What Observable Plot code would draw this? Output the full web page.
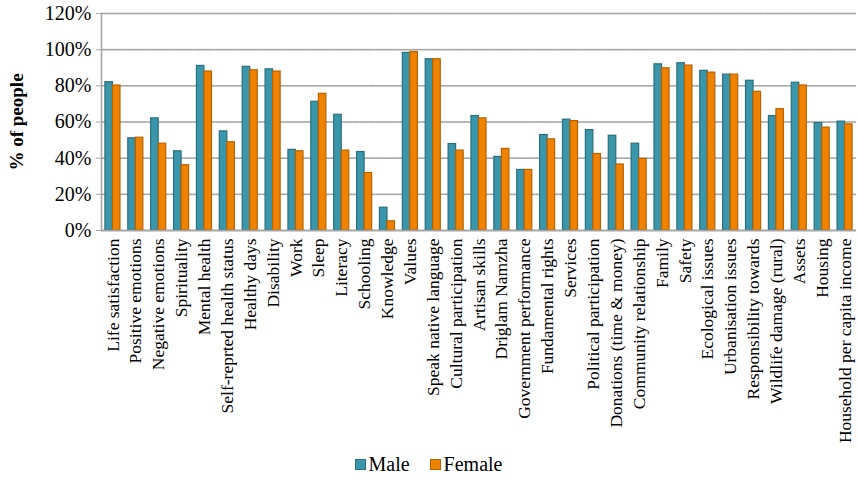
<!DOCTYPE html>
<html><head><meta charset="utf-8">
<script src="https://cdn.jsdelivr.net/npm/d3@7"></script>
<script src="https://cdn.jsdelivr.net/npm/@observablehq/plot@0.6"></script>
<style>
body{margin:0;background:#fff;font-family:"Liberation Serif",serif;}
#legend{width:857px;text-align:center;font-size:20px;color:#000;margin-top:1px;}
#legend span.sw{display:inline-block;width:9px;height:9px;border:1px solid;vertical-align:top;margin-top:6px;margin-right:3px;}
#legend span.item{margin:0 10px;}
</style></head><body>
<div id="chart"></div>
<div id="legend"></div>
<script>
const categories = ["Life satisfaction","Positive emotions","Negative emotions","Spirituality","Mental health","Self-reprted health status","Healthy days","Disability","Work","Sleep","Literacy","Schooling","Knowledge","Values","Speak native language","Cultural participation","Artisan skills","Driglam Namzha","Government performance","Fundamental rights","Services","Political participation","Donations (time & money)","Community relationship","Family","Safety","Ecological issues","Urbanisation issues","Responsibility towards","Wildlife damage (rural)","Assets","Housing","Household per capita income"];
const male =   [82.0,51.0,62.0,43.8,91.0,54.8,90.5,89.1,44.6,71.2,64.0,43.4,12.6,98.2,94.7,47.8,63.3,40.7,33.5,52.8,61.3,55.5,52.4,48.0,91.9,92.5,88.3,86.2,82.8,63.3,81.7,59.4,60.2];
const female = [80.2,51.3,48.0,36.1,87.9,48.8,88.6,87.9,43.8,75.6,44.2,31.8,5.1,98.7,94.7,44.2,62.0,45.1,33.5,50.4,60.5,42.3,36.5,39.6,89.7,91.2,87.3,86.2,76.7,67.1,80.2,56.9,58.7];
const series = ["Male","Female"];
const yTicks = [0,20,40,60,80,100,120];
const fills = {Male:"#3a97ab", Female:"#ef8200"};
const strokes = {Male:"#2a6e7e", Female:"#b86200"};

const data = categories.flatMap((c,i)=>[
  {category:c, gender:"Male", value:male[i]},
  {category:c, gender:"Female", value:female[i]}
]);

const plot = Plot.plot({
  width:857, height:452,
  marginLeft:101, marginRight:1, marginTop:13, marginBottom:222,
  style:{fontFamily:"Liberation Serif", fontSize:"18px", color:"#000", background:"#fff", overflow:"visible"},
  fx:{domain:categories, padding:0, round:false, label:null},
  x:{domain:series, paddingInner:0, paddingOuter:0.52, round:false, axis:null},
  y:{domain:[0,120], axis:null},
  marks:[
    Plot.gridY(yTicks, {stroke:"#a6a6a6", strokeOpacity:1, strokeWidth:1.6}),
    Plot.barY(data.filter(d=>d.gender==="Male"), {fx:"category", x:"gender", y:"value", fill:fills.Male, stroke:strokes.Male, strokeWidth:1.2}),
    Plot.barY(data.filter(d=>d.gender==="Female"), {fx:"category", x:"gender", y:"value", fill:fills.Female, stroke:strokes.Female, strokeWidth:1.2}),
    Plot.ruleY([0], {stroke:"#a6a6a6", strokeWidth:1.6}),
    Plot.frame({anchor:"left", facetAnchor:"left", stroke:"#a6a6a6", strokeWidth:1.6}),
    Plot.axisFx({anchor:"bottom", tickRotate:-90, tickSize:0, tickPadding:8, label:null, fontSize:17.5}),
    Plot.axisY(yTicks, {anchor:"left", tickFormat:d=>d+"%", tickSize:5, tickPadding:5, stroke:"#a6a6a6", label:null, fontSize:20}),
    Plot.axisY({anchor:"left", ticks:[], label:"% of people", labelAnchor:"center", labelOffset:92, labelArrow:"none", fontWeight:"bold", fontSize:19})
  ]
});
document.getElementById("chart").appendChild(plot);

const legend = document.getElementById("legend");
for (const s of series) {
  const item = document.createElement("span");
  item.className = "item";
  const sw = document.createElement("span");
  sw.className = "sw";
  sw.style.background = fills[s];
  sw.style.borderColor = strokes[s];
  item.appendChild(sw);
  item.appendChild(document.createTextNode(s));
  legend.appendChild(item);
}
</script>
</body></html>
